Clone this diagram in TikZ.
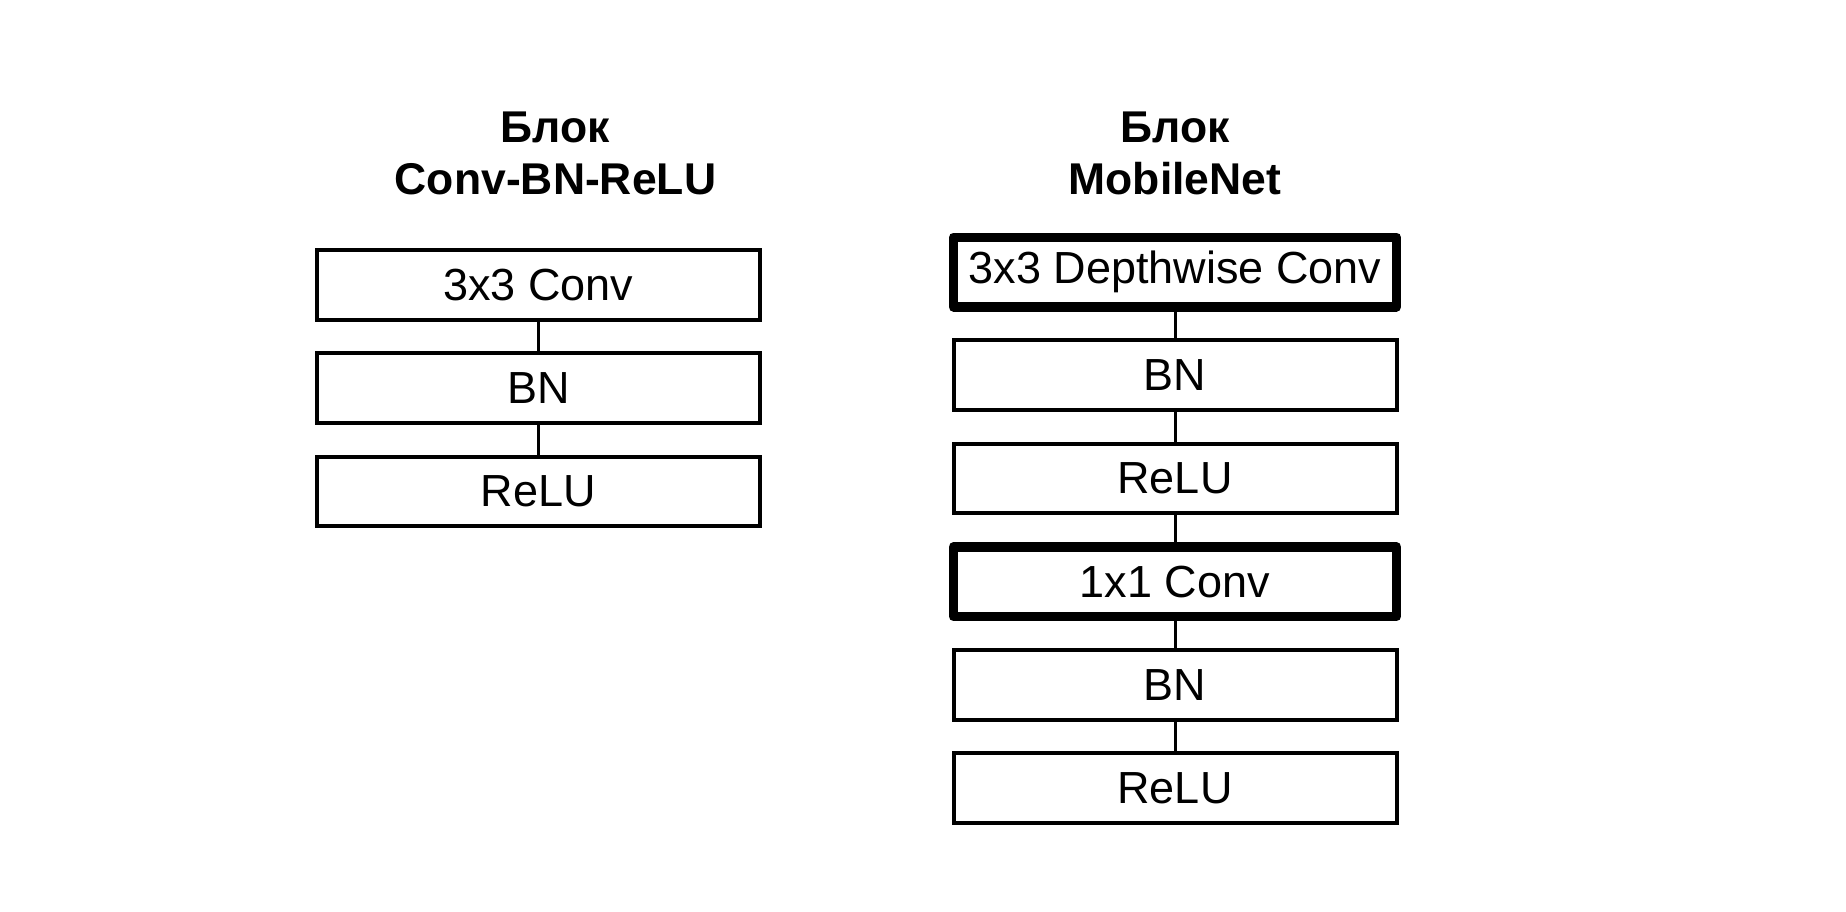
\documentclass[tikz,border=0pt]{standalone}
\usepackage{fontspec}
\setmainfont{Liberation Sans}
\usepackage{tikz}
\usetikzlibrary{positioning}
\tikzset{
    boxnode/.style = {draw, rectangle, fill=white, line width=0.04cm, minimum width=4.43cm, minimum height=0.695cm,
      inner sep = 0em, node distance=1.032cm, font=\fontsize{12.8}{15}\selectfont},
    thicknode/.style = {boxnode, line width=0.095cm, line join=round},
    titlenode/.style = {draw=none, fill=none, rectangle, inner sep = 0em, anchor=north,
      font=\fontsize{12.66}{14.8}\selectfont\bfseries},
    connect/.style = {black, line width=0.03cm},
    every text node part/.style={align=center}
}
\begin{document}
\begin{tikzpicture}
    \useasboundingbox (0,0) rectangle (18.46,-9.12);

    % left block
    \node [titlenode, name=titleA] at (5.555,-1.11) {Блок\\Conv-BN-ReLU};
    \node [boxnode, name=conv] at (5.385,-2.85) {3x3 Conv};
    \node [boxnode, name=bnA, below of = conv] {BN};
    \node [boxnode, name=reluA, below of = bnA] {ReLU};

    \draw (conv) edge[connect] (bnA);
    \draw (bnA) edge[connect] (reluA);

    % right block
    \node [titlenode, name=titleB] at (11.75,-1.11) {Блок\\MobileNet};
    \node [thicknode, name=dw] at (11.75,-2.72) {3x3 Depthwise Conv};
    \node [boxnode, name=bnB, below of = dw] {BN};
    \node [boxnode, name=reluB, below of = bnB] {ReLU};
    \node [thicknode, name=pw, below of = reluB] {1x1 Conv};
    \node [boxnode, name=bnC, below of = pw] {BN};
    \node [boxnode, name=reluC, below of = bnC] {ReLU};

    \draw (dw) edge[connect] (bnB);
    \draw (bnB) edge[connect] (reluB);
    \draw (reluB) edge[connect] (pw);
    \draw (pw) edge[connect] (bnC);
    \draw (bnC) edge[connect] (reluC);
\end{tikzpicture}
\end{document}
